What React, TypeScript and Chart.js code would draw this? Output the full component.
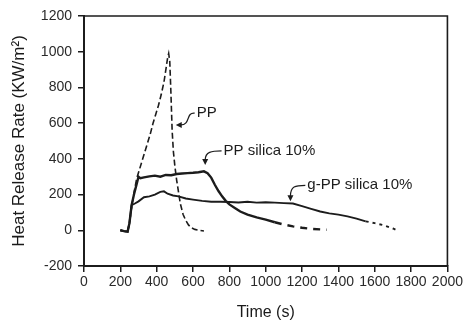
import React, { useEffect, useRef } from "react";
import { Chart, registerables } from "chart.js";

Chart.register(...registerables);

// ---- Data ----
const ppTime = [200, 220, 240, 250, 262, 275, 290, 305, 320, 335, 350, 365, 380, 395, 410, 425, 440, 452, 460, 466, 472, 478, 485, 492, 500, 510, 520, 530, 545, 560, 575, 590, 610, 635, 660];
const ppHrr = [0, -5, -8, 40, 130, 210, 290, 340, 390, 440, 490, 540, 600, 650, 700, 760, 830, 910, 965, 990, 945, 780, 560, 440, 360, 280, 215, 150, 90, 55, 30, 15, 5, 0, -4];

const ppSilicaTime = [200, 220, 240, 250, 262, 275, 290, 300, 310, 330, 360, 390, 420, 450, 480, 510, 540, 570, 600, 630, 660, 680, 700, 720, 740, 760, 780, 800, 830, 860, 900, 950, 1000, 1050, 1100, 1150, 1200, 1250, 1300, 1335];
const ppSilicaHrr = [0, -5, -8, 40, 140, 200, 260, 300, 292, 296, 302, 306, 300, 310, 308, 315, 318, 320, 322, 325, 330, 320, 295, 255, 220, 190, 165, 145, 125, 105, 88, 72, 60, 45, 32, 22, 14, 8, 5, 3];

const gppSilicaTime = [200, 220, 240, 250, 262, 280, 300, 330, 360, 390, 420, 440, 460, 490, 520, 560, 600, 650, 700, 750, 800, 850, 900, 950, 1000, 1050, 1100, 1150, 1200, 1250, 1300, 1350, 1400, 1450, 1500, 1550, 1600, 1650, 1700, 1715];
const gppSilicaHrr = [0, -5, -8, 40, 140, 150, 162, 185, 190, 200, 215, 218, 205, 195, 190, 178, 172, 165, 160, 160, 158, 156, 160, 155, 157, 155, 152, 150, 135, 120, 105, 95, 88, 78, 65, 50, 40, 28, 10, 3];

const seriesNames = ["PP", "PP silica 10%", "g-PP silica 10%"];

// Annotation anchors in data units
const annotationText = ["PP", "PP silica 10%", "g-PP silica 10%"];
const annotationTextX = [620, 768, 1229];
const annotationTextY = [656, 445, 252];
const annotationTipX = [505, 667, 1136];
const annotationTipY = [590, 366, 163];

const xTicks = [0, 200, 400, 600, 800, 1000, 1200, 1400, 1600, 1800, 2000];
const yTicks = [-200, 0, 200, 400, 600, 800, 1000, 1200];

const FONT = "'Liberation Sans', Arial, Helvetica, sans-serif";
const INK = "#1c1c1c";

function toPoints(xs: number[], ys: number[]) {
  return xs.map((x, i) => ({ x, y: ys[i] }));
}

const framePlugin = {
  id: "frame",
  afterDatasetsDraw(chart: any) {
    const { ctx, chartArea } = chart;
    ctx.save();
    ctx.strokeStyle = INK;
    ctx.lineWidth = 1.6;
    ctx.beginPath();
    ctx.moveTo(chartArea.left, chartArea.top);
    ctx.lineTo(chartArea.right, chartArea.top);
    ctx.lineTo(chartArea.right, chartArea.bottom);
    ctx.stroke();
    ctx.restore();
  },
};

const annotationPlugin = {
  id: "leaders",
  afterDatasetsDraw(chart: any) {
    const { ctx } = chart;
    const xs = chart.scales.x;
    const ys = chart.scales.y;
    ctx.save();
    ctx.font = `15px ${FONT}`;
    ctx.fillStyle = INK;
    ctx.strokeStyle = INK;
    ctx.lineWidth = 1.2;
    ctx.textBaseline = "middle";
    ctx.textAlign = "left";
    annotationText.forEach((txt, i) => {
      const tx = xs.getPixelForValue(annotationTextX[i]);
      const ty = ys.getPixelForValue(annotationTextY[i]);
      const ax = xs.getPixelForValue(annotationTipX[i]);
      const ay = ys.getPixelForValue(annotationTipY[i]);
      ctx.fillText(txt, tx, ty);
      const sx = tx - 2;
      const sy = ty;
      ctx.beginPath();
      if (i === 0) {
        const ex = ax + 5;
        ctx.moveTo(sx, sy);
        ctx.bezierCurveTo(sx - 9, sy - 1, ex + 10, ay, ex, ay);
        ctx.stroke();
        ctx.beginPath();
        ctx.moveTo(ax, ay);
        ctx.lineTo(ax + 6, ay - 3);
        ctx.lineTo(ax + 6, ay + 3);
        ctx.closePath();
        ctx.fill();
      } else {
        const ey = ay - 5;
        ctx.moveTo(sx, sy);
        ctx.bezierCurveTo(sx - 10, sy, ax, sy + 1, ax, ey);
        ctx.stroke();
        ctx.beginPath();
        ctx.moveTo(ax, ay);
        ctx.lineTo(ax - 3, ay - 6);
        ctx.lineTo(ax + 3, ay - 6);
        ctx.closePath();
        ctx.fill();
      }
    });
    ctx.restore();
  },
};

export default function App() {
  const canvasRef = useRef<HTMLCanvasElement | null>(null);

  useEffect(() => {
    const canvas = canvasRef.current;
    if (!canvas) return;
    const chart = new Chart(canvas, {
      type: "line",
      data: {
        datasets: [
          {
            label: seriesNames[0],
            data: toPoints(ppTime, ppHrr),
            borderColor: INK,
            borderWidth: 1.6,
            borderDash: [6, 3],
            pointRadius: 0,
            tension: 0,
            fill: false,
          },
          {
            label: seriesNames[1],
            data: toPoints(ppSilicaTime, ppSilicaHrr),
            borderColor: INK,
            borderWidth: 2.4,
            pointRadius: 0,
            tension: 0,
            fill: false,
            segment: {
              borderDash: (c: any) => (c.p0.parsed.x >= 1050 ? [7, 6] : undefined),
            },
          },
          {
            label: seriesNames[2],
            data: toPoints(gppSilicaTime, gppSilicaHrr),
            borderColor: INK,
            borderWidth: 1.9,
            pointRadius: 0,
            tension: 0,
            fill: false,
            segment: {
              borderDash: (c: any) => (c.p0.parsed.x >= 1550 ? [3, 4] : undefined),
            },
          },
        ],
      },
      options: {
        responsive: false,
        animation: false,
        devicePixelRatio: 1,
        layout: { padding: { left: 0, right: 16.5, top: 16, bottom: 0 } },
        plugins: {
          legend: { display: false },
          tooltip: { enabled: false },
          title: { display: false },
        },
        scales: {
          x: {
            type: "linear",
            min: 0,
            max: 2000,
            afterFit: (s: any) => {
              s.height = 56;
            },
            afterBuildTicks: (s: any) => {
              s.ticks = xTicks.map((v) => ({ value: v }));
            },
            ticks: {
              color: "#2a2a2a",
              font: { family: FONT, size: 14 },
              padding: 2,
              maxRotation: 0,
              autoSkip: false,
              callback: (v: any) => String(v),
            },
            grid: {
              drawOnChartArea: false,
              drawTicks: true,
              tickLength: 6,
              color: INK,
              lineWidth: 1.5,
            },
            border: { display: true, color: INK, width: 2 },
            title: {
              display: true,
              text: "Time (s)",
              color: "#1a1a1a",
              font: { family: FONT, size: 16 },
              padding: { top: 0, bottom: 0 },
            },
          },
          y: {
            type: "linear",
            min: -200,
            max: 1200,
            afterFit: (s: any) => {
              s.width = 84;
            },
            afterBuildTicks: (s: any) => {
              s.ticks = yTicks.map((v) => ({ value: v }));
            },
            ticks: {
              color: "#2a2a2a",
              font: { family: FONT, size: 14 },
              padding: 6,
              autoSkip: false,
              callback: (v: any) => String(v),
            },
            grid: {
              drawOnChartArea: false,
              drawTicks: true,
              tickLength: 6,
              color: INK,
              lineWidth: 1.5,
            },
            border: { display: true, color: INK, width: 2 },
            title: {
              display: true,
              text: "Heat Release Rate (KW/m²)",
              color: "#1a1a1a",
              font: { family: FONT, size: 17 },
              padding: { top: 9, bottom: 0 },
            },
          },
        },
      },
      plugins: [framePlugin, annotationPlugin],
    });
    return () => chart.destroy();
  }, []);

  return (
    <div style={{ position: "absolute", left: 0, top: 0, width: 465, height: 322, background: "#fff" }}>
      <canvas ref={canvasRef} width={465} height={322} style={{ width: 465, height: 322, display: "block" }} />
    </div>
  );
}
